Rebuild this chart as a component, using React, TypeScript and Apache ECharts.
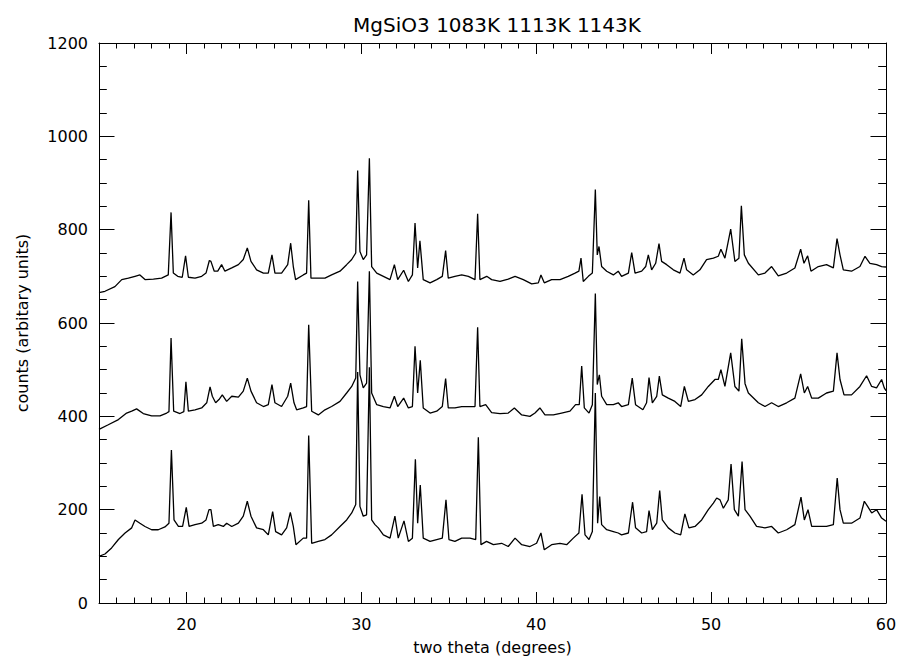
import React, { useEffect, useRef } from "react";
import * as echarts from "echarts";

// [two theta (deg), counts]
const trace1083K: [number, number][] = [
  [15.0, 665], [15.34, 668], [15.91, 678], [16.3, 693], [16.68, 696], [17.06, 700], [17.34, 703], [17.63, 693],
  [18.11, 694], [18.58, 696], [18.96, 703], [19.12, 837], [19.25, 707], [19.5, 700], [19.76, 698], [19.95, 744],
  [20.11, 698], [20.49, 696], [20.87, 700], [21.12, 707], [21.31, 734], [21.4, 732], [21.59, 711], [21.79, 711],
  [22.01, 725], [22.2, 711], [22.59, 718], [22.97, 725], [23.25, 736], [23.48, 761], [23.69, 732], [24.01, 714],
  [24.4, 707], [24.68, 707], [24.89, 746], [25.06, 707], [25.44, 707], [25.79, 725], [25.96, 771], [26.11, 721],
  [26.24, 693], [26.68, 703], [26.87, 707], [26.99, 863], [27.12, 696], [27.54, 696], [27.92, 696], [28.3, 703],
  [28.78, 711], [29.16, 725], [29.45, 736], [29.68, 750], [29.79, 927], [29.92, 753], [30.11, 736], [30.3, 746],
  [30.46, 953], [30.59, 721], [30.88, 707], [31.26, 700], [31.64, 693], [31.89, 725], [32.08, 693], [32.42, 713],
  [32.69, 689], [32.92, 703], [33.07, 814], [33.22, 718], [33.35, 776], [33.54, 693], [33.93, 686], [34.31, 693],
  [34.63, 700], [34.82, 755], [34.97, 696], [35.35, 700], [35.74, 703], [36.12, 700], [36.5, 693], [36.65, 834],
  [36.78, 693], [37.17, 700], [37.45, 693], [37.93, 689], [38.4, 694], [38.79, 700], [39.26, 693], [39.74, 684],
  [40.12, 686], [40.27, 703], [40.46, 686], [40.88, 693], [41.36, 693], [41.83, 700], [42.22, 707], [42.44, 711],
  [42.56, 739], [42.69, 689], [42.98, 700], [43.21, 707], [43.38, 886], [43.49, 746], [43.59, 764], [43.74, 721],
  [44.03, 711], [44.41, 703], [44.69, 711], [44.88, 700], [45.27, 707], [45.46, 751], [45.65, 707], [46.03, 711],
  [46.26, 721], [46.41, 746], [46.6, 714], [46.83, 728], [47.02, 770], [47.17, 732], [47.46, 725], [47.84, 714],
  [48.22, 707], [48.45, 739], [48.6, 714], [48.98, 703], [49.36, 714], [49.74, 736], [50.13, 739], [50.41, 743],
  [50.56, 758], [50.79, 739], [51.12, 801], [51.36, 732], [51.59, 739], [51.73, 851], [51.9, 746], [52.13, 728],
  [52.7, 703], [53.08, 707], [53.46, 721], [53.84, 701], [54.32, 707], [54.79, 718], [55.12, 758], [55.31, 728],
  [55.52, 744], [55.71, 711], [56.13, 721], [56.6, 725], [56.99, 718], [57.2, 781], [57.37, 746], [57.56, 714],
  [58.03, 711], [58.51, 721], [58.8, 743], [59.08, 728], [59.46, 725], [59.75, 721], [60.0, 720],
];

const trace1113K: [number, number][] = [
  [15.0, 372], [15.53, 382], [16.11, 393], [16.58, 407], [16.87, 411], [17.15, 416], [17.53, 406], [18.01, 401],
  [18.49, 401], [18.87, 407], [19.0, 410], [19.12, 568], [19.27, 411], [19.63, 406], [19.85, 410], [19.97, 474],
  [20.11, 411], [20.49, 414], [20.87, 418], [21.16, 429], [21.35, 463], [21.48, 443], [21.67, 429], [21.86, 436],
  [22.05, 446], [22.3, 432], [22.59, 443], [22.97, 441], [23.25, 454], [23.48, 482], [23.69, 454], [24.01, 429],
  [24.4, 421], [24.68, 425], [24.89, 468], [25.06, 429], [25.44, 421], [25.79, 443], [25.96, 471], [26.15, 429],
  [26.3, 414], [26.68, 418], [26.87, 421], [26.99, 596], [27.16, 411], [27.54, 403], [27.92, 414], [28.3, 421],
  [28.78, 432], [29.16, 450], [29.45, 464], [29.68, 482], [29.79, 689], [29.92, 489], [30.11, 461], [30.3, 471],
  [30.46, 711], [30.59, 450], [30.88, 425], [31.26, 421], [31.64, 418], [31.89, 443], [32.08, 421], [32.42, 439],
  [32.69, 418], [32.92, 421], [33.07, 550], [33.22, 450], [33.37, 520], [33.54, 418], [33.93, 407], [34.31, 411],
  [34.63, 421], [34.82, 481], [34.97, 418], [35.35, 418], [35.74, 421], [36.21, 421], [36.5, 421], [36.65, 591],
  [36.78, 421], [37.11, 425], [37.45, 408], [37.93, 406], [38.4, 407], [38.75, 418], [39.17, 403], [39.64, 400],
  [39.93, 407], [40.21, 418], [40.5, 403], [40.98, 403], [41.45, 407], [41.93, 411], [42.25, 425], [42.46, 425],
  [42.6, 508], [42.75, 418], [43.02, 407], [43.21, 425], [43.38, 663], [43.49, 468], [43.61, 489], [43.74, 443],
  [44.03, 425], [44.41, 425], [44.69, 429], [44.88, 421], [45.27, 425], [45.49, 482], [45.68, 425], [46.1, 414],
  [46.31, 429], [46.45, 483], [46.64, 429], [46.89, 443], [47.04, 486], [47.21, 446], [47.55, 439], [47.93, 432],
  [48.26, 421], [48.47, 464], [48.7, 432], [49.08, 436], [49.46, 446], [49.84, 464], [50.22, 479], [50.41, 479],
  [50.56, 500], [50.79, 464], [51.12, 536], [51.36, 464], [51.59, 454], [51.75, 566], [51.94, 470], [52.13, 450],
  [52.7, 429], [53.08, 421], [53.46, 429], [53.84, 421], [54.32, 429], [54.79, 439], [55.12, 491], [55.33, 450],
  [55.52, 464], [55.75, 439], [56.13, 439], [56.6, 450], [56.99, 454], [57.2, 536], [57.37, 479], [57.6, 446],
  [58.03, 446], [58.51, 464], [58.89, 487], [59.18, 464], [59.46, 461], [59.75, 479], [59.9, 461], [60.0, 455],
];

const trace1143K: [number, number][] = [
  [15.0, 100], [15.34, 105], [15.72, 118], [16.11, 136], [16.49, 150], [16.87, 161], [17.06, 178], [17.34, 171],
  [17.63, 164], [18.01, 157], [18.39, 157], [18.77, 163], [19.0, 171], [19.14, 328], [19.29, 178], [19.54, 164],
  [19.78, 164], [19.99, 205], [20.15, 164], [20.49, 168], [20.87, 171], [21.12, 178], [21.29, 200], [21.4, 200],
  [21.54, 164], [21.82, 168], [22.11, 164], [22.3, 171], [22.59, 164], [22.97, 171], [23.25, 186], [23.48, 218],
  [23.69, 186], [24.01, 161], [24.4, 157], [24.68, 146], [24.93, 196], [25.1, 153], [25.44, 146], [25.73, 161],
  [25.94, 194], [26.11, 164], [26.26, 125], [26.68, 139], [26.87, 139], [26.99, 359], [27.16, 128], [27.54, 132],
  [27.92, 136], [28.3, 146], [28.78, 164], [29.16, 178], [29.45, 193], [29.68, 211], [29.79, 495], [29.92, 207],
  [30.11, 186], [30.3, 189], [30.46, 505], [30.59, 178], [30.78, 168], [30.97, 161], [31.26, 146], [31.64, 139],
  [31.92, 186], [32.11, 139], [32.44, 176], [32.69, 132], [32.92, 139], [33.09, 308], [33.22, 171], [33.37, 253],
  [33.54, 139], [33.93, 132], [34.31, 136], [34.63, 139], [34.84, 221], [35.01, 136], [35.35, 132], [35.74, 139],
  [36.21, 139], [36.54, 136], [36.69, 355], [36.84, 125], [37.16, 132], [37.55, 125], [38.02, 128], [38.4, 121],
  [38.79, 139], [39.17, 125], [39.64, 121], [40.02, 128], [40.27, 150], [40.46, 114], [40.88, 125], [41.36, 128],
  [41.74, 125], [42.12, 139], [42.44, 150], [42.62, 233], [42.79, 146], [43.02, 136], [43.21, 153], [43.38, 450],
  [43.51, 171], [43.63, 228], [43.74, 168], [44.03, 157], [44.41, 153], [44.69, 150], [44.88, 146], [45.27, 150],
  [45.51, 216], [45.68, 161], [46.03, 150], [46.31, 153], [46.45, 198], [46.64, 157], [46.89, 171], [47.06, 241],
  [47.21, 178], [47.55, 161], [47.93, 150], [48.26, 146], [48.5, 191], [48.73, 161], [49.08, 164], [49.46, 178],
  [49.84, 200], [50.13, 214], [50.32, 225], [50.51, 221], [50.7, 203], [50.98, 221], [51.14, 298], [51.33, 200],
  [51.56, 186], [51.77, 303], [51.94, 200], [52.22, 186], [52.6, 164], [53.08, 161], [53.46, 164], [53.84, 150],
  [54.32, 157], [54.79, 168], [55.14, 227], [55.33, 178], [55.54, 200], [55.75, 164], [56.13, 164], [56.6, 164],
  [56.99, 168], [57.21, 268], [57.37, 200], [57.56, 171], [58.03, 171], [58.51, 182], [58.76, 218], [58.95, 207],
  [59.18, 193], [59.46, 200], [59.75, 182], [60.0, 175],
];

const xMajorTicks = [20, 30, 40, 50];
const xTickLabels = [20, 30, 40, 50, 60];

const FONT = "DejaVu Sans";

export default function App() {
  const ref = useRef<HTMLDivElement>(null);

  useEffect(() => {
    if (!ref.current) return;
    const chart = echarts.init(ref.current, null, { renderer: "svg" });
    const black = "#000";
    const baseX = { type: "value", min: 15, max: 60, splitLine: { show: false } };
    const majorX = (position: string, labels: boolean) => ({
      ...baseX,
      position,
      axisLine: { show: true, onZero: false, lineStyle: { color: black, width: 1 } },
      axisTick: { show: true, inside: true, length: 11, customValues: xMajorTicks, lineStyle: { color: black, width: 1 } },
      axisLabel: labels
        ? { show: true, customValues: xTickLabels, color: black, fontFamily: FONT, fontSize: 16, margin: 13 }
        : { show: false },
    });
    const minorX = (position: string) => ({
      ...baseX,
      position,
      interval: 1,
      axisLine: { show: false, onZero: false },
      axisTick: { show: true, inside: true, length: 5.5, lineStyle: { color: black, width: 1 } },
      axisLabel: { show: false },
    });
    const yAx = (position: string, labels: boolean) => ({
      type: "value",
      position,
      min: 0,
      max: 1200,
      interval: 200,
      splitLine: { show: false },
      axisLine: { show: true, onZero: false, lineStyle: { color: black, width: 1 } },
      axisTick: { show: true, inside: true, length: 15.5, lineStyle: { color: black, width: 1 } },
      minorTick: { show: true, splitNumber: 4, length: 7.8, lineStyle: { color: black, width: 1 } },
      axisLabel: labels
        ? { show: true, color: black, fontFamily: FONT, fontSize: 16, margin: 11, formatter: (v: number) => String(v) }
        : { show: false },
    });

    const lineSeries = (name: string, data: [number, number][]) => ({
      type: "line",
      name,
      data,
      xAxisIndex: 0,
      yAxisIndex: 0,
      showSymbol: false,
      symbol: "none",
      smooth: false,
      lineStyle: { color: black, width: 1.3 },
      itemStyle: { color: black },
      z: 3,
    });

    chart.setOption({
      animation: false,
      backgroundColor: "#fff",
      title: {
        text: "MgSiO3 1083K 1113K 1143K",
        left: 492,
        top: 10,
        textAlign: "center",
        textStyle: { color: black, fontFamily: FONT, fontWeight: "normal", fontSize: 20 },
      },
      grid: { left: 99, right: 12, top: 43, bottom: 57, outerBoundsMode: "none" },
      xAxis: [
        {
          ...majorX("bottom", true),
          name: "two theta (degrees)",
          nameLocation: "middle",
          nameGap: 36,
          nameTextStyle: { color: black, fontFamily: FONT, fontSize: 16 },
        },
        minorX("bottom"),
        majorX("top", false),
        minorX("top"),
      ],
      yAxis: [
        {
          ...yAx("left", true),
          name: "counts (arbitary units)",
          nameLocation: "middle",
          nameGap: 69,
          nameTextStyle: { color: black, fontFamily: FONT, fontSize: 16 },
        },
        yAx("right", false),
      ],
      series: [
        lineSeries("1083K", trace1083K),
        lineSeries("1113K", trace1113K),
        lineSeries("1143K", trace1143K),
      ],
    });
    return () => chart.dispose();
  }, []);

  return (
    <div
      ref={ref}
      style={{ position: "fixed", left: 0, top: 0, width: 898, height: 660, background: "#fff" }}
    />
  );
}
